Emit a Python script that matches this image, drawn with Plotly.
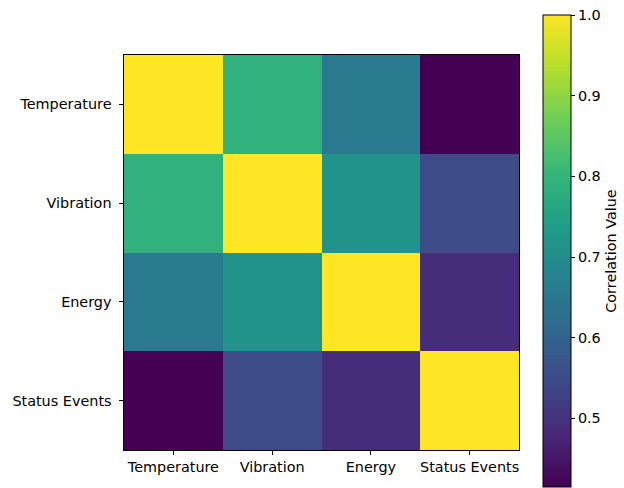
import plotly.graph_objects as go

# Sensor channels and their pairwise correlation matrix
labels = ["Temperature", "Vibration", "Energy", "Status Events"]
row_temperature = [1.00, 0.79, 0.655, 0.415]
row_vibration = [0.79, 1.00, 0.715, 0.55]
row_energy = [0.655, 0.715, 1.00, 0.49]
row_status = [0.415, 0.55, 0.49, 1.00]
cbar_ticks = [0.5, 0.6, 0.7, 0.8, 0.9, 1.0]

corr = [row_temperature, row_vibration, row_energy, row_status]
flat = [v for r in corr for v in r]

W, H = 624, 488
L, R, T, B = 124, 105, 55, 38
plot_w = W - L - R
plot_h = H - T - B
FS = 14.4

fig = go.Figure(
    go.Heatmap(
        z=corr,
        x=labels,
        y=labels,
        colorscale="Viridis",
        zmin=min(flat),
        zmax=max(flat),
        colorbar=dict(
            thickness=28,
            lenmode="pixels",
            len=472,
            x=(543 - L) / plot_w,
            xanchor="left",
            y=(H - B - 251) / plot_h,
            yanchor="middle",
            ypad=0,
            xpad=0,
            outlinecolor="black",
            outlinewidth=1,
            tickvals=cbar_ticks,
            tickformat=".1f",
            ticks="outside",
            ticklen=4,
            tickcolor="black",
            tickfont=dict(size=FS, color="black"),
            title=dict(text="Correlation Value", side="right",
                       font=dict(size=FS, color="black")),
        ),
    )
)

axis_common = dict(
    showline=True, mirror=True, linecolor="black", linewidth=1,
    ticks="outside", ticklen=4, tickcolor="black",
    showgrid=False, zeroline=False,
    tickfont=dict(size=FS, color="black"),
)

fig.update_layout(
    width=W, height=H,
    margin=dict(l=L, r=R, t=T, b=B, autoexpand=False),
    paper_bgcolor="white", plot_bgcolor="white",
    font=dict(family="DejaVu Sans", size=FS, color="black"),
    xaxis=dict(**axis_common),
    yaxis=dict(**axis_common, autorange="reversed", ticksuffix=" "),
)

fig.write_html("out.html")
